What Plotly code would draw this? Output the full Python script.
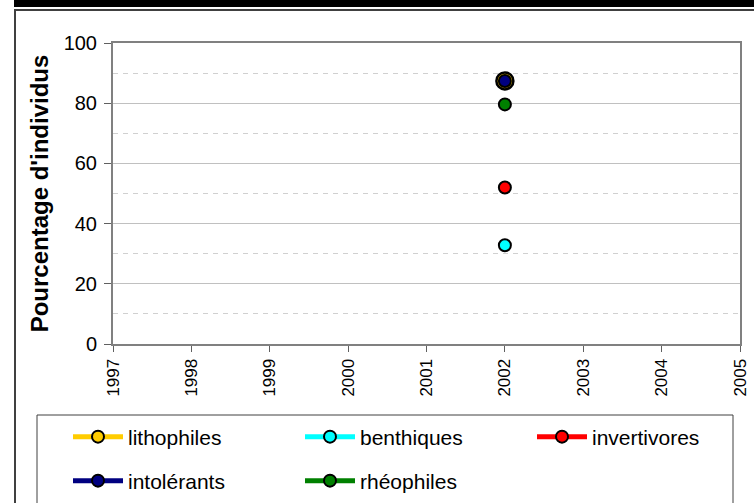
import plotly.graph_objects as go

years = [1997, 1998, 1999, 2000, 2001, 2002, 2003, 2004, 2005]
series_names = ["lithophiles", "benthiques", "invertivores", "intolérants", "rhéophiles"]
lithophiles = [None, None, None, None, None, 87.4, None, None, None]
benthiques = [None, None, None, None, None, 32.8, None, None, None]
invertivores = [None, None, None, None, None, 52.0, None, None, None]
intolerants = [None, None, None, None, None, 87.4, None, None, None]
rheophiles = [None, None, None, None, None, 79.6, None, None, None]
y_ticks = [0, 20, 40, 60, 80, 100]
x_ticks = years

W, H = 754, 503
L, R, T, B = 113, 740, 43, 344


def px(x):
    return (x - L) / (R - L)


def py(y):
    return (B - y) / (B - T)


FONT = "Liberation Sans, Arial, sans-serif"

styles = [
    dict(color="#FFCC00", size=17, lw=2.5),
    dict(color="#00FFFF", size=12, lw=2),
    dict(color="#FF0000", size=12, lw=2),
    dict(color="#000080", size=12, lw=2),
    dict(color="#008000", size=12, lw=2),
]
data = [lithophiles, benthiques, invertivores, intolerants, rheophiles]
legend_ids = ["legend", "legend2", "legend3", "legend4", "legend5"]

fig = go.Figure()
for name, vals, st, lg in zip(series_names, data, styles, legend_ids):
    fig.add_trace(go.Scatter(
        x=years, y=vals, name=name, mode="lines+markers",
        line=dict(color=st["color"], width=2),
        marker=dict(color=st["color"], size=st["size"], line=dict(color="black", width=st["lw"])),
        legend=lg, showlegend=True,
    ))

# legend positions (pixel) : item start x, row center y
leg_pos = [(68, 437), (300, 437), (532, 437), (68, 481), (300, 481)]
legend_layouts = {}
for lg, (lx, ly) in zip(legend_ids, leg_pos):
    legend_layouts[lg] = dict(
        x=px(lx), y=py(ly), xanchor="left", yanchor="middle",
        xref="paper", yref="paper",
        bgcolor="rgba(0,0,0,0)", borderwidth=0,
        font=dict(family=FONT, size=21, color="black"),
        itemsizing="constant", itemwidth=50,
    )

shapes = [
    # top black band
    dict(type="rect", xref="paper", yref="paper", x0=px(14), x1=px(760), y0=py(0), y1=py(7),
         fillcolor="black", line=dict(width=0), layer="above"),
    # outer frame
    dict(type="rect", xref="paper", yref="paper", x0=px(15), x1=px(770), y0=py(10), y1=py(520),
         line=dict(color="#404040", width=2), fillcolor="rgba(0,0,0,0)", layer="above"),
    # legend box
    dict(type="rect", xref="paper", yref="paper", x0=px(37), x1=px(733), y0=py(415), y1=py(520),
         line=dict(color="#404040", width=1), fillcolor="rgba(0,0,0,0)", layer="above"),
]

fig.update_layout(
    width=W, height=H,
    margin=dict(l=L, r=W - R, t=T, b=H - B, pad=0, autoexpand=False),
    paper_bgcolor="white", plot_bgcolor="white",
    font=dict(family=FONT, color="black"),
    shapes=shapes,
    **legend_layouts,
)

fig.update_xaxes(
    range=[1997, 2005], tickmode="array", tickvals=x_ticks, ticktext=[str(v) for v in x_ticks],
    tickangle=-90, tickfont=dict(size=17, family=FONT, color="black"),
    showgrid=False, zeroline=False, automargin=False,
    showline=True, linecolor="#808080", linewidth=2, mirror=True,
    ticks="outside", ticklen=6, tickcolor="#606060", tickwidth=1,
)
fig.update_yaxes(
    range=[0, 100], tickmode="array", tickvals=y_ticks,
    tickfont=dict(size=20, family=FONT, color="black"),
    showgrid=True, gridcolor="#C0C0C0", gridwidth=1,
    minor=dict(dtick=10, tick0=0, showgrid=True, gridcolor="#D0D0D0", griddash="5px,5px", ticks=""),
    zeroline=False, automargin=False,
    showline=True, linecolor="#808080", linewidth=2, mirror=True,
    ticks="outside", ticklen=7, tickcolor="#606060", tickwidth=1, ticklabelstandoff=3,
    title=dict(text="<b>Pourcentage d'individus</b>", font=dict(size=24, family=FONT, color="black"), standoff=8),
)

fig.write_html(
    "out.html",
    config={"displayModeBar": False},
    post_script="document.body.style.margin='0px';document.body.style.overflow='hidden';",
)
